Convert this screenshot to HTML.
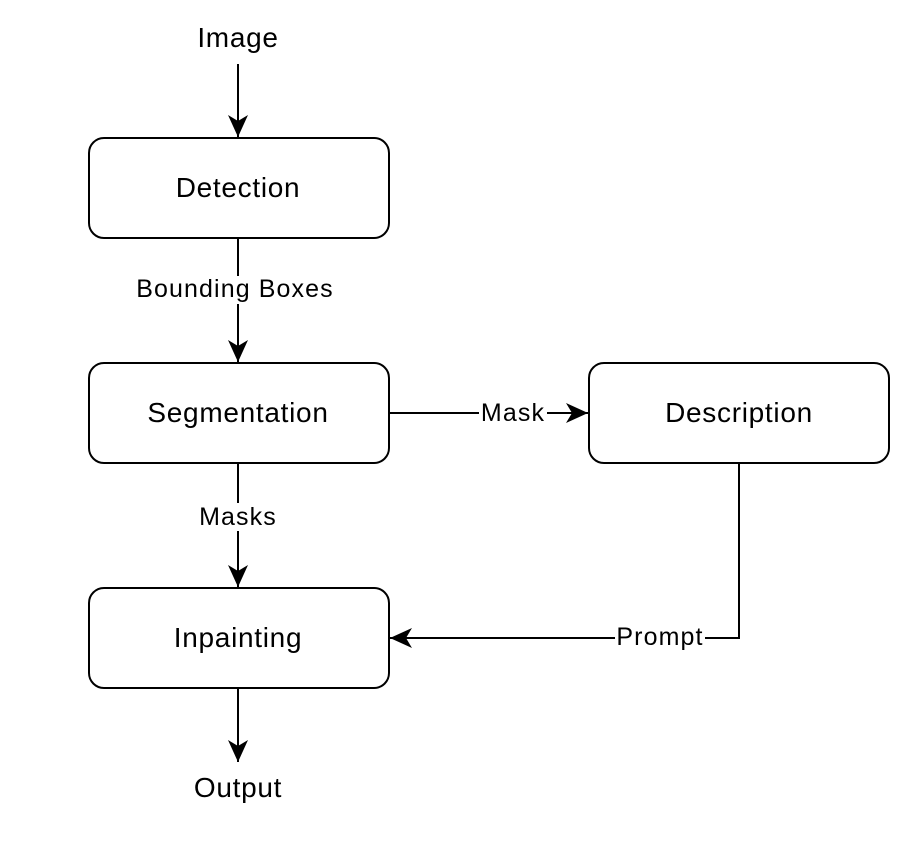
<!DOCTYPE html>
<html><head><style>
body{margin:0;background:#fff;}
svg text{font-family:"Liberation Sans",Arial,sans-serif;fill:#000;}
</style></head><body>
<svg width="914" height="847" viewBox="0 0 914 847" xmlns="http://www.w3.org/2000/svg">
<defs>
<marker id="a" markerWidth="24" markerHeight="22" refX="22" refY="11" orient="auto" markerUnits="userSpaceOnUse" viewBox="0 0 24 22">
<path d="M0,1 L22,11 L0,21 L6,11 Z" fill="#000"/>
</marker>
</defs>
<g stroke="#000" stroke-width="2" fill="#fff">
<rect x="89" y="138" width="300" height="100" rx="15"/>
<rect x="89" y="363" width="300" height="100" rx="15"/>
<rect x="89" y="588" width="300" height="100" rx="15"/>
<rect x="589" y="363" width="300" height="100" rx="15"/>
</g>
<g stroke="#000" stroke-width="2" fill="none">
<path d="M238,64 L238,137" marker-end="url(#a)"/>
<path d="M238,239 L238,362" marker-end="url(#a)"/>
<path d="M238,464 L238,587" marker-end="url(#a)"/>
<path d="M238,689 L238,762" marker-end="url(#a)"/>
<path d="M390,413 L588,413" marker-end="url(#a)"/>
<path d="M739,464 L739,638 L390,638" marker-end="url(#a)"/>
</g>
<g fill="#fff">
<rect x="133" y="276" width="204" height="28"/>
<rect x="196" y="503" width="84" height="28"/>
<rect x="479" y="400" width="68" height="28"/>
<rect x="615" y="624" width="90" height="28"/>
</g>
<g font-size="28" text-anchor="middle" letter-spacing="0.7">
<text x="238" y="47">Image</text>
<text x="238" y="197">Detection</text>
<text x="238" y="422">Segmentation</text>
<text x="238" y="647">Inpainting</text>
<text x="739" y="422">Description</text>
<text x="238" y="797">Output</text>
</g>
<g font-size="25" text-anchor="middle" letter-spacing="1.1">
<text x="235" y="297">Bounding Boxes</text>
<text x="238" y="525">Masks</text>
<text x="513" y="421">Mask</text>
<text x="660" y="645">Prompt</text>
</g>
</svg>
</body></html>
